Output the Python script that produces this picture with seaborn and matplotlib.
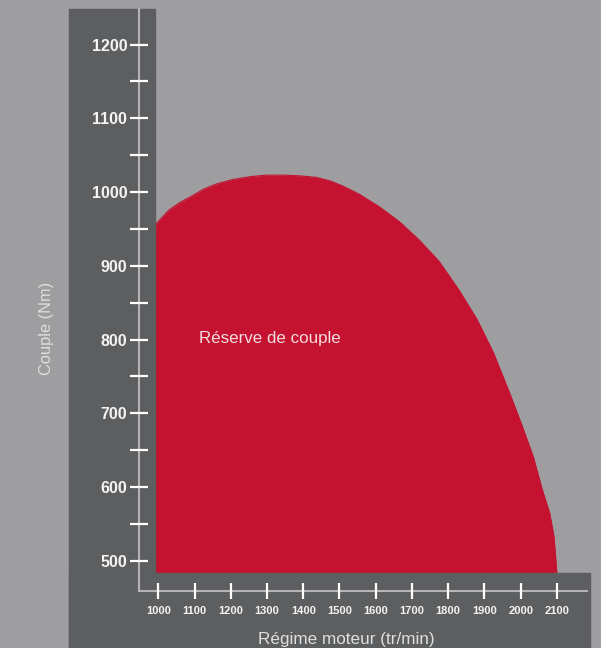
import matplotlib
matplotlib.use('Agg')
import matplotlib.pyplot as plt
from matplotlib.patches import Rectangle
import pandas as pd
import seaborn as sns

# valeurs (régime en tr/min, couple en Nm)
regime = [990, 1005, 1030, 1060, 1090, 1125, 1160, 1205, 1255, 1300, 1345, 1390,
          1435, 1475, 1510, 1555, 1610, 1665, 1720, 1775, 1830, 1880, 1925, 1970,
          2005, 2035, 2060, 2080, 2092, 2100]
couple = [955, 963, 976, 986, 994, 1004, 1011, 1017, 1021, 1023, 1023, 1022,
          1020, 1015, 1008, 997, 980, 960, 935, 906, 867, 827, 782, 727,
          682, 641, 596, 565, 533, 483]

x_ticks = [1000, 1100, 1200, 1300, 1400, 1500, 1600, 1700, 1800, 1900, 2000, 2100]
y_ticks = [500, 600, 700, 800, 900, 1000, 1100, 1200]
y_ticks_mineurs = [550, 650, 750, 850, 950, 1050, 1150]

sns.set_theme(style='white')
plt.rcParams['font.family'] = ['Liberation Sans', 'DejaVu Sans']

fond = '#9e9ea0'
panneau = '#5d5e60'
rouge = '#c41230'

df = pd.DataFrame({'regime': regime, 'couple': couple})

W, H = 601, 648
fig = plt.figure(figsize=(W / 100, H / 100), dpi=100, facecolor=fond)
ax = fig.add_axes([139 / W, 1 - 591 / H, 448 / W, 582 / H])
ax.set_facecolor(fond)

# zone rouge
ax.fill_between(df['regime'], df['couple'], 440, color=rouge, lw=0, zorder=1)
sns.lineplot(data=df, x='regime', y='couple', color=rouge, lw=0.8, ax=ax, zorder=1)

# panneaux gris foncé (forme en L) derrière les axes
for x0, y0, w, h in [(69, 9, 86, 639), (69, 573, 521, 75)]:
    ax.add_artist(Rectangle((x0 / W, 1 - (y0 + h) / H), w / W, h / H,
                            transform=fig.transFigure, color=panneau,
                            zorder=2, clip_on=False))

ax.set_xlim(946.7, 2183.1)
ax.set_ylim(459.2, 1248.2)
ax.set_axisbelow(False)

for s in ['top', 'right']:
    ax.spines[s].set_visible(False)
for s in ['left', 'bottom']:
    ax.spines[s].set_color('#b5b5b7')
    ax.spines[s].set_linewidth(1.5)

ax.set_xticks(x_ticks)
ax.set_yticks(y_ticks)
ax.set_yticks(y_ticks_mineurs, minor=True)
ax.tick_params(axis='y', which='both', direction='inout', length=13, width=1.6,
               color='white', labelsize=11.5, labelcolor='#f4f4f4', pad=2, left=True)
ax.tick_params(axis='x', direction='inout', length=11, width=1.6,
               color='white', labelsize=8, labelcolor='#f4f4f4', pad=5.5, bottom=True)
for lab in ax.get_xticklabels() + ax.get_yticklabels():
    lab.set_fontweight('bold')

ax.set_xlabel('')
ax.set_ylabel('')

ax.text(1112, 795, 'Réserve de couple', color='#f3dde0', fontsize=12.2,
        ha='left', va='baseline', zorder=3)

fig.text(46 / W, 1 - 328 / H, 'Couple (Nm)', rotation=90, color='#dedede',
         fontsize=11.8, ha='center', va='center')
fig.text(346 / W, 1 - 644 / H, 'Régime moteur (tr/min)', color='#dedede',
         fontsize=12.3, ha='center', va='baseline')

plt.savefig('out.png', dpi=100, facecolor=fond)
plt.close()
